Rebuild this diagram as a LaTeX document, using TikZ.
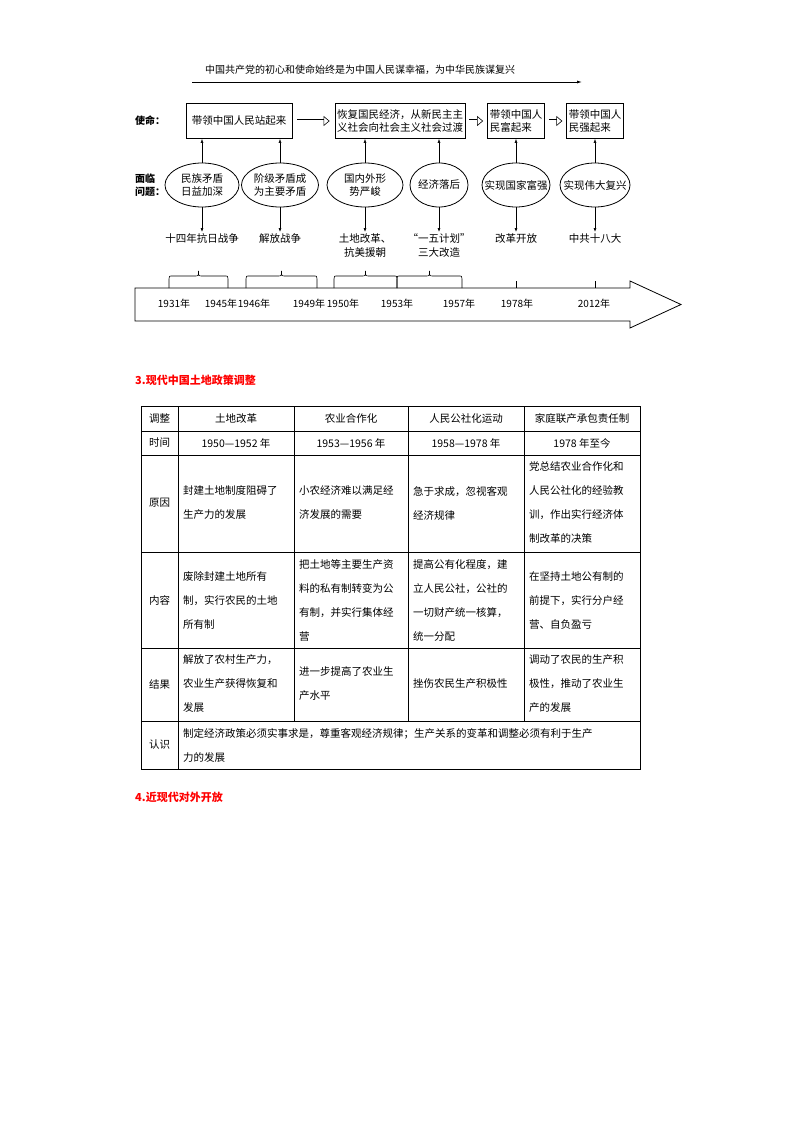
\documentclass[tikz,border=0pt]{standalone}
\usepackage{fontspec}
\setmainfont{Noto Sans CJK SC}
\usetikzlibrary{shapes.geometric,arrows.meta,calc}
\begin{document}
\begin{tikzpicture}[x=1pt,y=-1pt,
  box/.style={draw,line width=0.8pt,inner sep=2pt,font=\fontsize{10.5}{13}\selectfont,align=left},
  ell/.style={draw,ellipse,line width=0.8pt,inner sep=-3pt,font=\fontsize{10.5}{13}\selectfont,align=center},
  lab/.style={font=\fontsize{10.5}{14}\selectfont,align=center},
  yr/.style={font=\fontsize{10}{12}\selectfont},
  up/.style={-{Latex[length=4pt,width=3pt]},line width=0.6pt},
  dbl/.style={double,double distance=3pt,line width=0.6pt,-{Triangle[open,length=6pt,width=10pt]}},
  cell/.style={anchor=west,align=left,font=\fontsize{10.5}{24}\selectfont,inner sep=0pt},
  hd/.style={anchor=center,font=\fontsize{10.5}{13}\selectfont,inner sep=0pt},
  brc/.style={line width=0.6pt},
  sec/.style={anchor=west,text=red,font=\bfseries\fontsize{11}{13}\selectfont,inner sep=0pt}]
\useasboundingbox (0,0) rectangle (800,1132);
% title
\node[font=\fontsize{10}{12}\selectfont] (title) at (360,70) {中国共产党的初心和使命始终是为中国人民谋幸福，为中华民族谋复兴};
\coordinate (ta) at (192,82); \coordinate (tb) at (582,82);
\draw[-{Latex[length=5pt,width=3pt]},line width=0.8pt] (ta) -- (tb);
\node[font=\bfseries\fontsize{10}{12}\selectfont] (sm) at (150,121) {使命：};
\node[font=\bfseries\fontsize{10}{13}\selectfont,align=left] (mw) at (150,185) {面临\\问题：};
% boxes
\node[box,minimum width=106pt,minimum height=35pt,align=center] (b1) at (239,121) {带领中国人民站起来};
\node[box,minimum width=128pt,minimum height=35pt] (b2) at (400,121) {恢复国民经济，从新民主主\\义社会向社会主义社会过渡};
\node[box,minimum width=57pt,minimum height=35pt] (b3) at (516,121) {带领中国人\\民富起来};
\node[box,minimum width=55pt,minimum height=35pt] (b4) at (595,121) {带领中国人\\民强起来};
\draw[dbl] ([xshift=5pt]b1.east) -- ([xshift=-5pt]b2.west);
\draw[dbl] ([xshift=4pt]b2.east) -- ([xshift=-4pt]b3.west);
\draw[dbl] ([xshift=4pt]b3.east) -- ([xshift=-4pt]b4.west);
% ellipses
\node[ell,minimum width=74pt,minimum height=44pt] (e1) at (202,185) {民族矛盾\\日益加深};
\node[ell,minimum width=77pt,minimum height=44pt] (e2) at (280,185) {阶级矛盾成\\为主要矛盾};
\node[ell,minimum width=76pt,minimum height=44pt] (e3) at (365,185) {国内外形\\势严峻};
\node[ell,minimum width=58pt,minimum height=44pt] (e4) at (439,185) {经济落后};
\node[ell,inner xsep=-9pt,minimum width=68pt,minimum height=44pt] (e5) at (516,185) {实现国家富强};
\node[ell,inner xsep=-9pt,minimum width=70pt,minimum height=44pt] (e6) at (595,185) {实现伟大复兴};
\draw[up] (e1.north) -- (e1.north |- b1.south);
\draw[up] (e2.north) -- (e2.north |- b1.south);
\draw[up] (e3.north) -- (e3.north |- b2.south);
\draw[up] (e4.north) -- (e4.north |- b2.south);
\draw[up] (e5.north) -- (e5.north |- b3.south);
\draw[up] (e6.north) -- (e6.north |- b4.south);
% event labels
\node[lab,anchor=north] (l1) at (202,230) {十四年抗日战争};
\node[lab,anchor=north] (l2) at (280,230) {解放战争};
\node[lab,anchor=north] (l3) at (365,230) {土地改革、\\抗美援朝};
\node[lab,anchor=north] (l4) at (439,230) {“一五计划”\\三大改造};
\node[lab,anchor=north] (l5) at (516,230) {改革开放};
\node[lab,anchor=north] (l6) at (595,230) {中共十八大};
\foreach \i in {1,...,6} {\draw[up] (e\i.south) -- ([yshift=-2pt]l\i.north);}
% braces
\foreach \a/\b in {169/228,246/317,334/397,397/462} {
  \pgfmathsetmacro{\m}{(\a+\b)/2}
  \draw[brc] (\a,288) -- (\a,279) .. controls (\a,276) .. (\a+4,276) -- (\m-4,276)
    .. controls (\m,276) .. (\m,271) .. controls (\m,276) .. (\m+4,276) -- (\b-4,276)
    .. controls (\b,276) .. (\b,279) -- (\b,288);
}
\draw[line width=0.6pt] (516,281) -- (516,288);
\draw[line width=0.6pt] (595,281) -- (595,288);
% big arrow
\draw[line width=0.8pt] (135,288) -- (630,288) -- (630,281) -- (681,304.5) -- (630,328) -- (630,321) -- (135,321) -- cycle;
\foreach \x/\t in {174/1931,221/1945,254/1946,309/1949,343/1950,397/1953,459/1957,517/1978,594/2012}
  {\node[yr] at (\x,304) {\t 年};}
% section 3
\node[sec] (s3) at (135,380) {3.现代中国土地政策调整};
% table
\draw[line width=0.6pt] (141,406) rectangle (640,769);
\foreach \y in {431,455,552,721} {\draw[line width=0.6pt] (141,\y) -- (640,\y);}
\draw[line width=1pt] (141,648) -- (640,648);
\draw[line width=0.6pt] (178,406) -- (178,769);
\foreach \x in {294,408,524} {\draw[line width=0.6pt] (\x,406) -- (\x,721);}
\node[hd] at (159.5,418.5) {调整};
\node[hd] at (236,418.5) {土地改革};
\node[hd] at (351,418.5) {农业合作化};
\node[hd] at (466,418.5) {人民公社化运动};
\node[hd] at (582,418.5) {家庭联产承包责任制};
\node[hd] at (159.5,443) {时间};
\node[hd] at (236,443) {1950—1952 年};
\node[hd] at (351,443) {1953—1956 年};
\node[hd] at (466,443) {1958—1978 年};
\node[hd] at (582,443) {1978 年至今};
\node[hd] at (159.5,503) {原因};
\node[hd] at (159.5,600) {内容};
\node[hd] at (159.5,684) {结果};
\node[hd] at (159.5,745) {认识};
\node[cell] at (183,503) {封建土地制度阻碍了\\生产力的发展};
\node[cell] at (299,503) {小农经济难以满足经\\济发展的需要};
\node[cell] at (413,503) {急于求成，忽视客观\\经济规律};
\node[cell] at (529,503) {党总结农业合作化和\\人民公社化的经验教\\训，作出实行经济体\\制改革的决策};
\node[cell] at (183,600) {废除封建土地所有\\制，实行农民的土地\\所有制};
\node[cell] at (299,600) {把土地等主要生产资\\料的私有制转变为公\\有制，并实行集体经\\营};
\node[cell] at (413,600) {提高公有化程度，建\\立人民公社，公社的\\一切财产统一核算，\\统一分配};
\node[cell] at (529,600) {在坚持土地公有制的\\前提下，实行分户经\\营、自负盈亏};
\node[cell] at (183,684) {解放了农村生产力，\\农业生产获得恢复和\\发展};
\node[cell] at (299,684) {进一步提高了农业生\\产水平};
\node[cell] at (413,684) {挫伤农民生产积极性};
\node[cell] at (529,684) {调动了农民的生产积\\极性，推动了农业生\\产的发展};
\node[cell] at (183,745) {制定经济政策必须实事求是，尊重客观经济规律；生产关系的变革和调整必须有利于生产\\力的发展};
% section 4
\node[sec] (s4) at (135,797) {4.近现代对外开放};
\end{tikzpicture}
\end{document}
